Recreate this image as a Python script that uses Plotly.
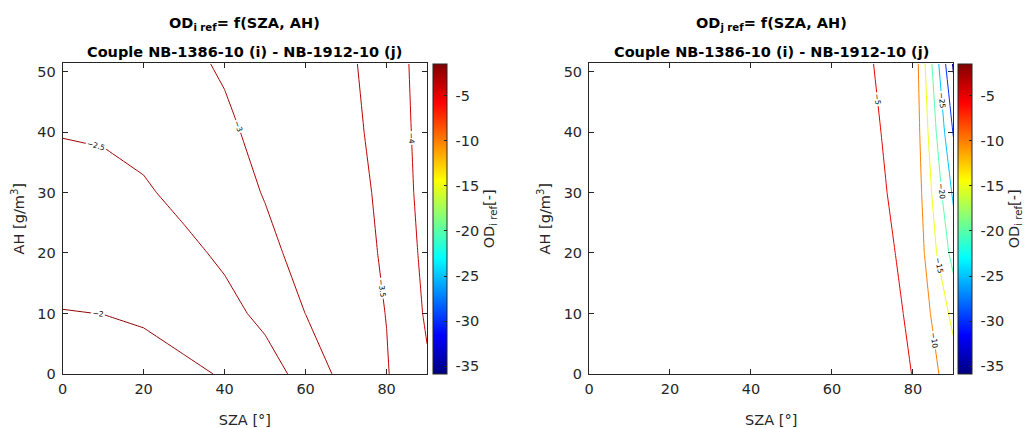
import plotly.graph_objects as go

# ---- data ----
sza = [0, 10, 20, 30, 40, 50, 60, 70, 80, 90]
ah = [0, 10, 20, 30, 40, 51.35]

od_i_ref = [
    [-1.811, -1.818, -1.850, -1.926, -2.030, -2.300, -2.660, -3.183, -3.470, -3.940],
    [-1.988, -2.003, -2.047, -2.159, -2.360, -2.610, -3.005, -3.250, -3.510, -4.061],
    [-2.164, -2.182, -2.245, -2.391, -2.580, -2.860, -3.180, -3.360, -3.540, -4.137],
    [-2.341, -2.364, -2.443, -2.623, -2.760, -3.030, -3.200, -3.380, -3.570, -4.212],
    [-2.518, -2.545, -2.640, -2.800, -2.930, -3.110, -3.280, -3.420, -3.600, -4.256],
    [-2.700, -2.740, -2.820, -2.920, -3.043, -3.180, -3.320, -3.450, -3.630, -4.303],
]

od_j_ref = [
    [-1.50, -1.52, -1.58, -1.68, -1.84, -2.08, -2.50, -4.20, -5.03, -12.80],
    [-1.60, -1.62, -1.68, -1.79, -1.96, -2.22, -2.66, -4.40, -5.19, -16.38],
    [-1.70, -1.72, -1.79, -1.90, -2.08, -2.36, -2.80, -4.50, -5.39, -21.90],
    [-1.80, -1.82, -1.89, -2.01, -2.20, -2.49, -2.93, -4.60, -5.71, -25.90],
    [-1.90, -1.92, -2.00, -2.12, -2.32, -2.62, -3.07, -4.75, -5.94, -30.40],
    [-2.01, -2.04, -2.12, -2.25, -2.46, -2.77, -3.23, -4.97, -6.14, -35.80],
]

levels_i = [-4.0, -2.0, 0.5]   # start, end, step
levels_j = [-35.0, -5.0, 5.0]
color_limits = [-35.84, -1.49]
cbar_ticks = [-35, -30, -25, -20, -15, -10, -5]
x_ticks = [0, 20, 40, 60, 80]
y_ticks = [0, 10, 20, 30, 40, 50]

titles = ["OD<sub>i ref</sub>= f(SZA, AH)", "OD<sub>j ref</sub>= f(SZA, AH)"]
subtitle = "Couple NB-1386-10 (i) - NB-1912-10 (j)"
cbar_title = "OD<sub>i ref</sub>[-]"

# ---- style ----
W, H = 1025, 428
FONT = "DejaVu Sans"
FS = 14.5
AXC = "#262626"
jet_stops = [(0.0, (0, 0, 128)), (0.125, (0, 0, 255)), (0.375, (0, 255, 255)),
             (0.625, (255, 255, 0)), (0.875, (255, 0, 0)), (1.0, (128, 0, 0))]
jet = [[p, "rgb(%d,%d,%d)" % c] for p, c in jet_stops]


def jet_color(g):
    g = min(max(g, 0.0), 1.0)
    for (p0, c0), (p1, c1) in zip(jet_stops[:-1], jet_stops[1:]):
        if g <= p1:
            f = (g - p0) / (p1 - p0)
            return "rgb(%d,%d,%d)" % tuple(round(a + f * (b - a)) for a, b in zip(c0, c1))
    return "rgb(128,0,0)"


def level_scale(lv):
    # colours of each contour level taken from the shared jet colour limits
    n = int(round((lv[1] - lv[0]) / lv[2])) + 1
    out = []
    for i in range(n):
        v = lv[0] + i * lv[2]
        g = (v - color_limits[0]) / (color_limits[1] - color_limits[0])
        out.append([i / (n - 1), jet_color(g)])
    return out


plot_left = [58, 588]
plot_w = 367
plot_top, plot_bot = 64.7, 381
cb_left = [431, 960]

fig = go.Figure()
for k, (z, lv) in enumerate([(od_i_ref, levels_i), (od_j_ref, levels_j)]):
    xa = "x" if k == 0 else "x2"
    ya = "y" if k == 0 else "y2"
    # invisible heatmap just to carry a continuous jet colorbar
    fig.add_trace(go.Heatmap(
        x=sza, y=ah, z=z, colorscale=jet, zmin=color_limits[0], zmax=color_limits[1],
        opacity=0, hoverinfo="skip", xaxis=xa, yaxis=ya, showscale=True,
        colorbar=dict(
            x=cb_left[k] / W, xanchor="left", xpad=0, ypad=0,
            y=(H - plot_bot) / H, yanchor="bottom",
            len=(plot_bot - plot_top) / H, lenmode="fraction",
            thickness=14, thicknessmode="pixels",
            outlinewidth=1, outlinecolor=AXC,
            tickvals=cbar_ticks, ticktext=[" " + str(t) for t in cbar_ticks],
            ticks="inside", ticklen=3, tickcolor=AXC,
            tickfont=dict(family=FONT, size=FS, color=AXC),
            title=dict(text=cbar_title, side="right",
                       font=dict(family=FONT, size=FS, color=AXC)),
        ),
    ))
    fig.add_trace(go.Contour(
        x=sza, y=ah, z=z, colorscale=level_scale(lv),
        autocontour=False,
        contours=dict(coloring="lines", start=lv[0], end=lv[1], size=lv[2],
                      showlabels=True,
                      labelfont=dict(family=FONT, size=7.5, color="black")),
        line=dict(width=1, smoothing=0),
        showscale=False, hoverinfo="skip", xaxis=xa, yaxis=ya,
    ))

axis_common = dict(showgrid=False, zeroline=False, showline=True, linecolor=AXC,
                   linewidth=1, mirror="ticks", ticks="inside", ticklen=5,
                   tickcolor=AXC, tickfont=dict(family=FONT, size=FS, color=AXC))

ydom = [(H - plot_bot) / H, (H - plot_top) / H]
layout = dict(width=W, height=H, margin=dict(l=0, r=0, t=0, b=0),
              paper_bgcolor="white", plot_bgcolor="white", showlegend=False)
for k in range(2):
    sfx = "" if k == 0 else "2"
    xdom = [plot_left[k] / W, (plot_left[k] + plot_w) / W]
    layout["xaxis" + sfx] = dict(domain=xdom, range=[0, 90], tickvals=x_ticks,
                                 anchor="y" + sfx, ticklabelstandoff=2,
                                 title=dict(text="SZA [°]", standoff=18,
                                            font=dict(family=FONT, size=FS, color=AXC)),
                                 **axis_common)
    layout["yaxis" + sfx] = dict(domain=ydom, range=[0, 51.35], tickvals=y_ticks,
                                 anchor="x" + sfx, ticklabelstandoff=3,
                                 title=dict(text="AH [g/m<sup>3</sup>]", standoff=9,
                                            font=dict(family=FONT, size=FS, color=AXC)),
                                 **axis_common)

ann = []
for k in range(2):
    cx = (plot_left[k] + plot_w / 2) / W
    ann.append(dict(text="<b>" + titles[k] + "</b>", xref="paper", yref="paper",
                    x=cx, y=1 - 24 / H, xanchor="center", yanchor="middle",
                    showarrow=False, font=dict(family=FONT, size=FS, color="black")))
    ann.append(dict(text="<b>" + subtitle + "</b>", xref="paper", yref="paper",
                    x=cx, y=1 - 53 / H, xanchor="center", yanchor="middle",
                    showarrow=False, font=dict(family=FONT, size=FS, color="black")))
layout["annotations"] = ann

fig.update_layout(**layout)
fig.write_html("out.html")
